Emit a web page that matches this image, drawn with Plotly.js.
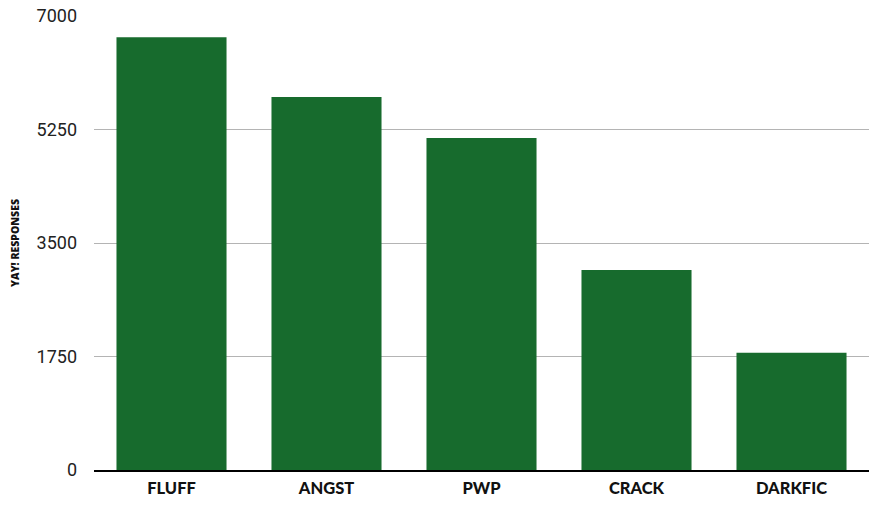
<!DOCTYPE html>
<html>
<head>
<meta charset="utf-8">
<script src="https://cdn.plot.ly/plotly-3.0.1.min.js"></script>
<style>
  html, body { margin: 0; padding: 0; background: #fff; }
  #chart { width: 881px; height: 507px; }
</style>
</head>
<body>
<div id="chart"></div>
<script>
// genres and response counts
const categories = ['FLUFF', 'ANGST', 'PWP', 'CRACK', 'DARKFIC'];
const responses = [6673, 5750, 5118, 3085, 1806];
const yTicks = [0, 1750, 3500, 5250, 7000];

const barColor = '#176b2d';

const trace = {
  type: 'bar',
  x: categories,
  y: responses,
  marker: { color: barColor },
  hoverinfo: 'x+y'
};

const layout = {
  width: 881,
  height: 507,
  margin: { l: 94, r: 12, t: 16, b: 37 },
  paper_bgcolor: '#fff',
  plot_bgcolor: '#fff',
  bargap: 0.29,
  showlegend: false,
  xaxis: {
    showgrid: false,
    showline: true,
    linecolor: '#000',
    linewidth: 1.5,
    ticks: '',
    tickfont: { family: 'Lato', size: 16.5, color: '#111', weight: 900 },
    ticklabelstandoff: 3
  },
  yaxis: {
    range: [0, 7000],
    tickvals: yTicks,
    ticktext: yTicks.map(String),
    showgrid: true,
    gridcolor: '#b4b4b4',
    gridwidth: 1,
    zeroline: false,
    showline: false,
    ticks: '',
    ticklabelstandoff: 16,
    tickfont: { family: 'Roboto', size: 18, color: '#222', weight: 400 },
    title: {
      text: 'YAY! RESPONSES',
      font: { family: 'Open Sans', size: 10.5, color: '#111', weight: 800 },
      standoff: 14
    }
  }
};

Plotly.newPlot('chart', [trace], layout, { displayModeBar: false, staticPlot: true });
</script>
</body>
</html>
